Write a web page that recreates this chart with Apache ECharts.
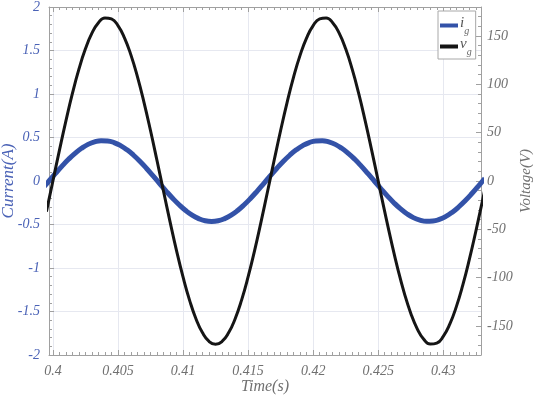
<!DOCTYPE html>
<html><head><meta charset="utf-8">
<script src="https://cdn.jsdelivr.net/npm/echarts@6/dist/echarts.min.js"></script>
<style>html,body{margin:0;padding:0;background:#fff}#c{width:536px;height:399px}</style>
</head><body><div id="c"></div>
<script>
// ---- data ----
var timeV = [0.3995,0.4000,0.4005,0.4010,0.4015,0.4020,0.4025,0.4030,0.4035,0.4040,0.4045,0.4050,0.4055,0.4060,0.4065,0.4070,0.4075,0.4080,0.4085,0.4090,0.4095,0.4100,0.4105,0.4110,0.4115,0.4120,0.4125,0.4130,0.4135,0.4140,0.4145,0.4150,0.4155,0.4160,0.4165,0.4170,0.4175,0.4180,0.4185,0.4190,0.4195,0.4200,0.4205,0.4210,0.4215,0.4220,0.4225,0.4230,0.4235,0.4240,0.4245,0.4250,0.4255,0.4260,0.4265,0.4270,0.4275,0.4280,0.4285,0.4290,0.4295,0.4300,0.4305,0.4310,0.4315,0.4320,0.4325,0.4330,0.4335];
var voltage = [-31.7,0,31.7,62.2,90.6,115.7,136.7,152.9,163.7,168.7,167.7,160.7,148.1,130.2,107.7,81.4,52.2,21.2,-10.6,-42.0,-72.0,-99.3,-123.2,-142.7,-157.1,-166.0,-169.0,-166.0,-157.1,-142.7,-123.2,-99.3,-72.0,-42.0,-10.6,21.2,52.2,81.4,107.7,130.2,148.1,160.7,167.7,168.7,163.7,152.9,136.7,115.7,90.6,62.2,31.7,0,-31.7,-62.2,-90.6,-115.7,-136.7,-152.9,-163.7,-168.7,-167.7,-160.7,-148.1,-130.2,-107.7,-81.4,-52.2,-21.2,10.6];
var timeI = [0.3992,0.3997,0.4002,0.4007,0.4012,0.4017,0.4022,0.4027,0.4032,0.4037,0.4042,0.4047,0.4052,0.4057,0.4062,0.4067,0.4072,0.4077,0.4082,0.4087,0.4092,0.4097,0.4102,0.4107,0.4112,0.4117,0.4122,0.4127,0.4132,0.4137,0.4142,0.4147,0.4152,0.4157,0.4162,0.4167,0.4172,0.4177,0.4182,0.4187,0.4192,0.4197,0.4202,0.4207,0.4212,0.4217,0.4222,0.4227,0.4232,0.4237,0.4242,0.4247,0.4252,0.4257,0.4262,0.4267,0.4272,0.4277,0.4282,0.4287,0.4292,0.4297,0.4302,0.4307,0.4312,0.4317,0.4322,0.4327,0.4332];
var current = [-0.087,0,0.087,0.171,0.249,0.318,0.376,0.421,0.450,0.464,0.461,0.442,0.407,0.358,0.296,0.224,0.144,0.058,-0.029,-0.116,-0.198,-0.273,-0.339,-0.393,-0.432,-0.457,-0.465,-0.457,-0.432,-0.393,-0.339,-0.273,-0.198,-0.116,-0.029,0.058,0.144,0.224,0.296,0.358,0.407,0.442,0.461,0.464,0.450,0.421,0.376,0.318,0.249,0.171,0.087,0,-0.087,-0.171,-0.249,-0.318,-0.376,-0.421,-0.450,-0.464,-0.461,-0.442,-0.407,-0.358,-0.296,-0.224,-0.144,-0.058,0.029];
var xTicks = [0.4,0.405,0.41,0.415,0.42,0.425,0.43];
var yLeftTicks = [-2,-1.5,-1,-0.5,0,0.5,1,1.5,2];
var yRightTicks = [-150,-100,-50,0,50,100,150];
var seriesNames = ['i', 'v'];
var subscript = 'g';

// ---- ranges ----
var xMin = 0.3997, xMax = 0.4329;
var yRMin = -180, yRMax = 180;

function minorBetween(ticks, n, lo, hi) {
  var step = (ticks[1] - ticks[0]) / n, out = [];
  var start = ticks[0] - Math.ceil((ticks[0] - lo) / step) * step;
  for (var v = start; v < hi; v += step) {
    var r = Math.round(v * 1e6) / 1e6;
    if (r > lo && r < hi && ticks.indexOf(r) < 0) out.push(r);
  }
  return out;
}
var xMinor = minorBetween(xTicks, 10, xMin, xMax);
var yRMinor = minorBetween(yRightTicks, 5, yRMin, yRMax);

var font = 'Liberation Serif';
var gray = '#707070', blue = '#4a62b6', frame = '#a0a0a0', gridC = '#e6e8f0';
var chart = echarts.init(document.getElementById('c'), null, {renderer: 'canvas'});

function zip(a, b) { return a.map(function (t, i) { return [t, b[i]]; }); }

function helperX(pos, vals, len, showLine) {
  return {type: 'value', min: xMin, max: xMax, position: pos,
    axisLine: {show: showLine, onZero: false, lineStyle: {color: frame}},
    axisLabel: {show: false}, splitLine: {show: false},
    axisTick: {show: true, inside: true, length: len, customValues: vals, lineStyle: {color: frame}}};
}

chart.setOption({
  animation: false,
  grid: {left: 49, right: 55, top: 7, bottom: 44, containLabel: false, outerBoundsMode: 'none'},
  legend: {
    data: seriesNames, orient: 'vertical', left: 438, top: 11, padding: [5, 4, 2, 2],
    borderColor: '#a8a8a8', borderWidth: 1, backgroundColor: '#fff',
    itemWidth: 18, itemHeight: 4, itemGap: 1, icon: 'rect',
    formatter: function (n) { return '{m|' + n + '}{s|' + subscript + '}'; },
    textStyle: {padding: [0, 0, 0, -3], rich: {
      m: {fontFamily: font, fontStyle: 'italic', fontSize: 15, color: '#555', padding: [0, 0, 4, 0]},
      s: {fontFamily: font, fontStyle: 'italic', fontSize: 10, color: '#666', padding: [11, 0, 0, 0]}
    }}
  },
  xAxis: [
    {type: 'value', min: xMin, max: xMax, position: 'bottom',
     name: 'Time(s)', nameLocation: 'middle', nameGap: 24, nameMoveOverlap: false,
     nameTextStyle: {color: gray, fontFamily: font, fontStyle: 'italic', fontSize: 16},
     axisLine: {show: true, onZero: false, lineStyle: {color: frame}},
     axisTick: {show: true, inside: true, length: 5, customValues: xTicks, lineStyle: {color: frame}},
     axisLabel: {show: true, customValues: xTicks, color: gray, fontFamily: font, fontStyle: 'italic', fontSize: 14, margin: 9,
       formatter: function (v) { return String(+(+v).toFixed(4)); }},
     splitLine: {show: true, lineStyle: {color: gridC}}},
    helperX('bottom', xMinor, 3, false),
    helperX('top', xTicks, 5, true),
    helperX('top', xMinor, 3, false)
  ],
  yAxis: [
    {type: 'value', min: -2, max: 2, interval: 0.5, position: 'left',
     name: 'Current(A)', nameLocation: 'middle', nameGap: 32, nameRotate: 90, nameMoveOverlap: false,
     nameTextStyle: {color: blue, fontFamily: font, fontStyle: 'italic', fontSize: 17},
     axisLine: {show: true, onZero: false, lineStyle: {color: frame}},
     axisTick: {show: true, inside: true, length: 5, lineStyle: {color: frame}},
     minorTick: {show: true, splitNumber: 5, length: 3, lineStyle: {color: frame}},
     axisLabel: {color: blue, fontFamily: font, fontStyle: 'italic', fontSize: 14, margin: 9},
     splitLine: {show: true, lineStyle: {color: gridC}}},
    {type: 'value', min: yRMin, max: yRMax, position: 'right',
     name: 'Voltage(V)', nameLocation: 'middle', nameGap: 38, nameRotate: 90, nameMoveOverlap: false,
     nameTextStyle: {color: gray, fontFamily: font, fontStyle: 'italic', fontSize: 15},
     axisLine: {show: true, onZero: false, lineStyle: {color: frame}},
     axisTick: {show: true, inside: true, length: 5, customValues: yRightTicks, lineStyle: {color: frame}},
     axisLabel: {customValues: yRightTicks, color: gray, fontFamily: font, fontStyle: 'italic', fontSize: 14, margin: 6},
     splitLine: {show: false}},
    {type: 'value', min: yRMin, max: yRMax, position: 'right',
     axisLine: {show: false, onZero: false}, axisLabel: {show: false}, splitLine: {show: false},
     axisTick: {show: true, inside: true, length: 3, customValues: yRMinor, lineStyle: {color: frame}}}
  ],
  series: [
    {name: seriesNames[0], type: 'line', xAxisIndex: 0, yAxisIndex: 0, data: zip(timeI, current),
     smooth: true, showSymbol: false, color: '#3352a8', lineStyle: {width: 5, color: '#3352a8'}},
    {name: seriesNames[1], type: 'line', xAxisIndex: 0, yAxisIndex: 1, data: zip(timeV, voltage),
     smooth: true, showSymbol: false, color: '#151515', lineStyle: {width: 3, color: '#151515'}}
  ]
});
</script></body></html>
